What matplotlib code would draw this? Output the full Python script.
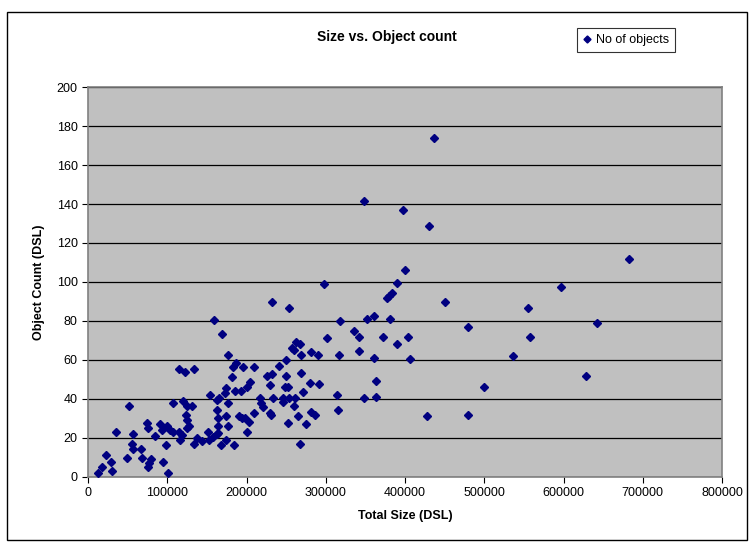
import matplotlib
matplotlib.use("Agg")
import matplotlib.pyplot as plt
from matplotlib.patches import Rectangle

plt.rcParams['font.family'] = ['Liberation Sans', 'DejaVu Sans']

# total size (DSL) and object count
total_size = [
    13000, 17700, 22700, 28600, 30300, 35300, 49200, 52100, 55100, 57200,
    57200, 66900, 68100, 74100, 76100, 79100, 77300, 75300, 84200, 90800,
    93000, 94300, 98400, 101300, 99300, 103500, 106900, 106900, 115200, 122800,
    133800, 115200, 116100, 118200, 119500, 124500, 130800, 123700, 125300, 127800,
    125300, 133800, 137900, 143500, 151800, 153100, 153900, 159400, 168700, 177000,
    183300, 186400, 196000, 181300, 173700, 173200, 162400, 165700, 177000, 185500,
    192700, 200200, 204400, 163200, 163700, 173700, 177000, 163700, 162400, 157300,
    164400, 167400, 173700, 184200, 190900, 193900, 198100, 200200, 203500, 209800,
    209800, 217000, 217900, 220400, 229600, 230500, 233800, 226200, 231800, 229600,
    232500, 241000, 249800, 249800, 248600, 252000, 245700, 245700, 254000, 261200,
    259900, 252000, 253200, 257000, 259900, 262500, 267500, 268800, 265400, 267900,
    270900, 268800, 275100, 280100, 281400, 281400, 286400, 289800, 291500, 297800,
    302000, 313800, 315100, 316700, 318000, 335600, 342300, 342300, 348300, 351700,
    361300, 361300, 363000, 363000, 372600, 376900, 379800, 384000, 381100, 389500,
    390300, 400000, 404400, 405900, 397100, 436200, 430300, 683000, 597200, 450500,
    555600, 641900, 479100, 557300, 536600, 628700, 500000, 428100, 479100, 348600,
]
object_count = [
    2.0, 5.0, 11.1, 7.3, 3.0, 23.0, 9.7, 36.2, 16.7, 22.0,
    14.0, 14.0, 9.5, 27.4, 24.8, 8.8, 6.8, 4.7, 20.8, 27.0,
    23.9, 7.3, 16.2, 2.0, 26.0, 23.9, 37.9, 23.0, 55.1, 53.6,
    55.1, 23.0, 18.8, 21.3, 39.0, 36.2, 36.2, 31.6, 29.0, 26.0,
    24.8, 16.7, 19.9, 18.4, 23.0, 18.8, 41.9, 80.5, 73.1, 62.5,
    56.1, 58.2, 56.1, 51.0, 45.3, 42.8, 39.3, 40.2, 37.9, 44.0,
    44.0, 45.9, 48.7, 34.2, 29.9, 31.3, 26.0, 26.0, 21.9, 20.2,
    22.2, 16.2, 18.8, 16.2, 31.1, 29.9, 29.9, 23.0, 28.2, 56.1,
    32.8, 40.2, 37.6, 35.9, 32.8, 31.6, 40.2, 51.7, 52.7, 47.0,
    89.9, 56.8, 59.9, 51.7, 45.9, 46.2, 40.2, 38.5, 40.2, 40.2,
    36.2, 27.7, 86.5, 65.9, 65.0, 69.3, 68.1, 62.5, 31.1, 16.7,
    43.6, 53.4, 27.0, 47.9, 64.2, 33.0, 31.6, 62.5, 47.4, 99.0,
    71.1, 41.9, 34.2, 62.5, 80.1, 75.0, 71.6, 64.7, 40.2, 80.8,
    82.7, 60.8, 49.1, 40.7, 71.6, 91.6, 92.8, 94.2, 80.8, 99.6,
    68.0, 106.2, 71.6, 60.3, 137.0, 174.0, 128.8, 111.8, 97.6, 89.9,
    86.6, 78.9, 77.0, 71.7, 62.0, 51.7, 46.0, 31.1, 31.6, 141.6,
]

x_ticks = list(range(0, 800001, 100000))
y_ticks = list(range(0, 201, 20))

fig = plt.figure(figsize=(7.54, 5.44), dpi=100)
fig.patches.append(Rectangle((7 / 754, 4 / 544), 740 / 754, 528 / 544,
                             transform=fig.transFigure, fill=False,
                             edgecolor='black', linewidth=1.0))

ax = fig.add_axes([88 / 754, 67.5 / 544, 634 / 754, 389.2 / 544])
ax.set_facecolor('#C0C0C0')
for s in ax.spines.values():
    s.set_color('#808080')
    s.set_linewidth(1.2)

ax.set_xlim(0, 800000)
ax.set_ylim(0, 200)
ax.set_xticks(x_ticks)
ax.set_yticks(y_ticks)
ax.set_xticklabels([str(v) for v in x_ticks])
ax.tick_params(direction='out', length=4, width=0.8, labelsize=9)
ax.grid(axis='y', color='black', linewidth=0.9)
ax.set_axisbelow(True)

ax.plot(total_size, object_count, linestyle='none', marker='D', ms=4.2,
        color='#000080', label='No of objects', zorder=3)

ax.set_xlabel('Total Size (DSL)', fontsize=9, fontweight='bold', labelpad=8)
ax.set_ylabel('Object Count (DSL)', fontsize=9, fontweight='bold', labelpad=8)
fig.text(387 / 754, 1 - 37 / 544, 'Size vs. Object count', fontsize=10,
         fontweight='bold', ha='center', va='center')

leg = fig.legend(loc='center', bbox_to_anchor=(626 / 754, 1 - 40 / 544),
                 fontsize=9, frameon=True, fancybox=False, handlelength=0.6,
                 handletextpad=0.4, borderpad=0.5, markerscale=0.85)
leg.get_frame().set_edgecolor('black')
leg.get_frame().set_linewidth(0.8)

fig.savefig('out.png', dpi=100)
